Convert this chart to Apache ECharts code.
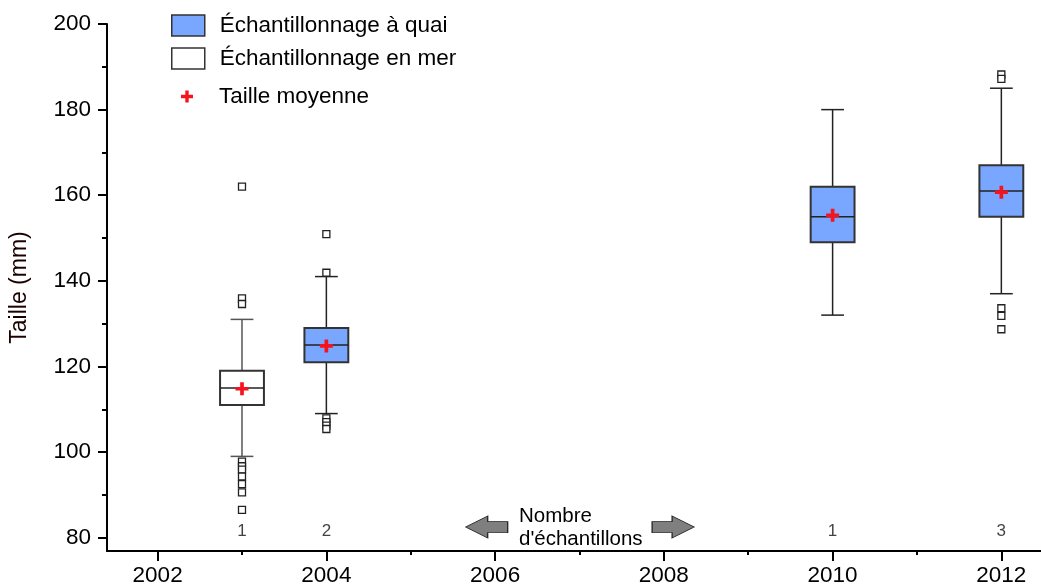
<!DOCTYPE html>
<html>
<head>
<meta charset="utf-8">
<script src="https://cdn.jsdelivr.net/npm/echarts@6/dist/echarts.min.js"></script>
<style>
  html, body { margin: 0; padding: 0; background: #ffffff; }
  #chart { width: 1041px; height: 588px; }
</style>
</head>
<body>
<div id="chart"></div>
<script>
// Length distributions per sampling year (mm)
const years = [2003, 2004, 2010, 2012];
const sampling = ['mer', 'quai', 'quai', 'quai'];
const whiskerLow = [99, 109, 132, 137];
const q1 = [111, 121, 149, 155];
const median = [115, 125, 155, 161];
const q3 = [119, 129, 162, 167];
const whiskerHigh = [131, 141, 180, 185];
const means = [114.8, 124.8, 155.3, 160.7];
const sampleCounts = [1, 2, 1, 3];

// Individual values beyond the whiskers
const outliers2003 = [162, 135.9, 134.6, 97.8, 96.7, 95.9, 94.3, 92.5, 90.6, 86.5];
const outliers2004 = [150.9, 141.9, 107.9, 107.0, 106.2, 105.4];
const outliers2010 = [];
const outliers2012 = [188.2, 187.2, 133.6, 131.8, 128.7];

// Axis ticks
const yearTicks = [2002, 2004, 2006, 2008, 2010, 2012];
const yearMinorTicks = [2003, 2005, 2007, 2009, 2011];
const sizeTicks = [80, 100, 120, 140, 160, 180, 200];
const sizeMinorTicks = [90, 110, 130, 150, 170, 190];

// Annotation row for sample counts and its arrows
const countLabelLevel = 81.4;
const arrowPoints = [[2005.9, 82.5, 0], [2008.11, 82.5, 180]];

const FONT = '"Liberation Sans", Arial, sans-serif';
const BOX_W = 0.52;   // box width, in years
const CAP_W = 0.27;   // whisker cap width, in years
const BLUE = '#79a6fe';
const PLUS = 'path://M4.3,0 H7.7 V4.3 H12 V7.7 H7.7 V12 H4.3 V7.7 H0 V4.3 H4.3 Z';
const ARROW = 'path://M0,11 L22,0 L22,5.5 L42,5.5 L42,16.5 L22,16.5 L22,22 Z';

function boxRows(kind) {
  const rows = [];
  years.forEach((y, i) => {
    if (sampling[i] === kind) {
      rows.push([y, whiskerLow[i], q1[i], median[i], q3[i], whiskerHigh[i]]);
    }
  });
  return rows;
}

function makeRenderBox(whiskerColor) {
  return function (params, api) {
    const x = api.value(0);
    const lo = api.coord([x, api.value(1)]);
    const a = api.coord([x, api.value(2)]);
    const m = api.coord([x, api.value(3)]);
    const b = api.coord([x, api.value(4)]);
    const hi = api.coord([x, api.value(5)]);
    const bw = api.size([BOX_W, 0])[0];
    const cw = api.size([CAP_W, 0])[0];
    const cx = lo[0];
    const fill = api.visual('color');
    const wl = { stroke: whiskerColor, lineWidth: 1.5 };
    return {
      type: 'group',
      children: [
        { type: 'line', shape: { x1: cx, y1: hi[1], x2: cx, y2: b[1] }, style: wl },
        { type: 'line', shape: { x1: cx, y1: a[1], x2: cx, y2: lo[1] }, style: wl },
        { type: 'line', shape: { x1: cx - cw / 2, y1: hi[1], x2: cx + cw / 2, y2: hi[1] }, style: wl },
        { type: 'line', shape: { x1: cx - cw / 2, y1: lo[1], x2: cx + cw / 2, y2: lo[1] }, style: wl },
        { type: 'rect', shape: { x: cx - bw / 2, y: b[1], width: bw, height: a[1] - b[1] },
          style: { fill: fill, stroke: '#333333', lineWidth: 2 } },
        { type: 'line', shape: { x1: cx - bw / 2, y1: m[1], x2: cx + bw / 2, y2: m[1] },
          style: { stroke: '#222222', lineWidth: 1.5 } }
      ]
    };
  };
}

const outlierPoints = [];
[[2003, outliers2003], [2004, outliers2004], [2010, outliers2010], [2012, outliers2012]]
  .forEach(([y, vals]) => vals.forEach(v => outlierPoints.push([y, v])));

const chart = echarts.init(document.getElementById('chart'), null, { renderer: 'canvas' });

chart.setOption({
  animation: false,
  backgroundColor: '#ffffff',
  textStyle: { fontFamily: FONT },
  grid: { left: 107, right: 0, top: 24, bottom: 37, containLabel: false, outerBoundsMode: 'none' },
  xAxis: [
    {
      type: 'value', min: 2001.4, max: 2012.47,
      axisLine: { show: true, onZero: false, lineStyle: { color: '#000', width: 2 } },
      axisTick: { show: true, customValues: yearTicks, length: 10, lineStyle: { color: '#000', width: 2 } },
      axisLabel: { customValues: yearTicks, fontSize: 22.5, color: '#000', margin: 13, fontFamily: FONT,
        formatter: v => String(v) },
      splitLine: { show: false }
    },
    {
      type: 'value', min: 2001.4, max: 2012.47, position: 'bottom',
      axisLine: { show: false },
      axisTick: { show: true, customValues: yearMinorTicks, length: 4, lineStyle: { color: '#000', width: 2 } },
      axisLabel: { show: false },
      splitLine: { show: false }
    }
  ],
  yAxis: [
    {
      type: 'value', min: 76.9, max: 200,
      name: 'Taille (mm)', nameLocation: 'middle', nameGap: 76,
      nameTextStyle: { fontSize: 23, color: '#1a0000', fontFamily: FONT },
      axisLine: { show: true, onZero: false, lineStyle: { color: '#000', width: 2 } },
      axisTick: { show: true, customValues: sizeTicks, length: 9, lineStyle: { color: '#000', width: 2 } },
      axisLabel: { customValues: sizeTicks, fontSize: 22.5, color: '#000', margin: 16, fontFamily: FONT },
      splitLine: { show: false }
    },
    {
      type: 'value', min: 76.9, max: 200, position: 'left',
      axisLine: { show: false },
      axisTick: { show: true, customValues: sizeMinorTicks, length: 5, lineStyle: { color: '#000', width: 2 } },
      axisLabel: { show: false },
      splitLine: { show: false }
    }
  ],
  legend: [
    {
      orient: 'vertical', left: 171, top: 14, padding: 0, itemGap: 10,
      itemWidth: 33, itemHeight: 21, selectedMode: false,
      textStyle: { fontSize: 22.5, color: '#000', fontFamily: FONT, padding: [0, 0, 0, 10] },
      data: [
        { name: 'Échantillonnage à quai', icon: 'rect',
          itemStyle: { color: BLUE, borderColor: '#333', borderWidth: 1.5 } },
        { name: 'Échantillonnage en mer', icon: 'rect',
          itemStyle: { color: '#ffffff', borderColor: '#333', borderWidth: 1.5 } }
      ]
    },
    {
      orient: 'vertical', left: 181, top: 85, padding: 0,
      itemWidth: 12, itemHeight: 12, selectedMode: false,
      textStyle: { fontSize: 22.5, color: '#000', fontFamily: FONT, padding: [0, 0, 0, 21] },
      data: [
        { name: 'Taille moyenne', icon: PLUS, itemStyle: { color: '#f5141e', borderWidth: 0 } }
      ]
    }
  ],
  graphic: [
    {
      type: 'text', left: 519, top: 505, z: 10,
      style: { text: 'Nombre\nd\'échantillons', font: '20.5px ' + FONT, fill: '#000', lineHeight: 23 }
    }
  ],
  series: [
    {
      name: 'Échantillonnage à quai', type: 'custom',
      renderItem: makeRenderBox('#222222'),
      itemStyle: { color: BLUE },
      encode: { x: 0, y: [1, 2, 3, 4, 5] },
      data: boxRows('quai'), z: 2
    },
    {
      name: 'Échantillonnage en mer', type: 'custom',
      renderItem: makeRenderBox('#555555'),
      itemStyle: { color: '#ffffff' },
      encode: { x: 0, y: [1, 2, 3, 4, 5] },
      data: boxRows('mer'), z: 2
    },
    {
      name: 'Valeurs extrêmes', type: 'scatter',
      symbol: 'rect', symbolSize: 7,
      itemStyle: { color: '#ffffff', borderColor: '#222222', borderWidth: 1.3, opacity: 1 },
      data: outlierPoints, z: 3
    },
    {
      name: 'Taille moyenne', type: 'scatter',
      symbol: PLUS, symbolSize: 13,
      itemStyle: { color: '#f5141e', opacity: 1 },
      data: years.map((y, i) => [y, means[i]]), z: 5
    },
    {
      name: 'Nombre', type: 'scatter', symbolSize: 0, silent: true,
      label: { show: true, position: 'inside', fontSize: 17, color: '#111', fontFamily: FONT,
        formatter: p => String(p.value[2]) },
      data: years.map((y, i) => [y, countLabelLevel, sampleCounts[i]]), z: 4
    },
    {
      name: 'Flèches', type: 'scatter', silent: true,
      symbol: ARROW, symbolSize: [42, 22],
      itemStyle: { color: '#7f7f7f', borderColor: '#2a2a2a', borderWidth: 1, opacity: 1 },
      data: arrowPoints.map(p => ({ value: [p[0], p[1]], symbolRotate: p[2] })), z: 4
    }
  ]
});
</script>
</body>
</html>
